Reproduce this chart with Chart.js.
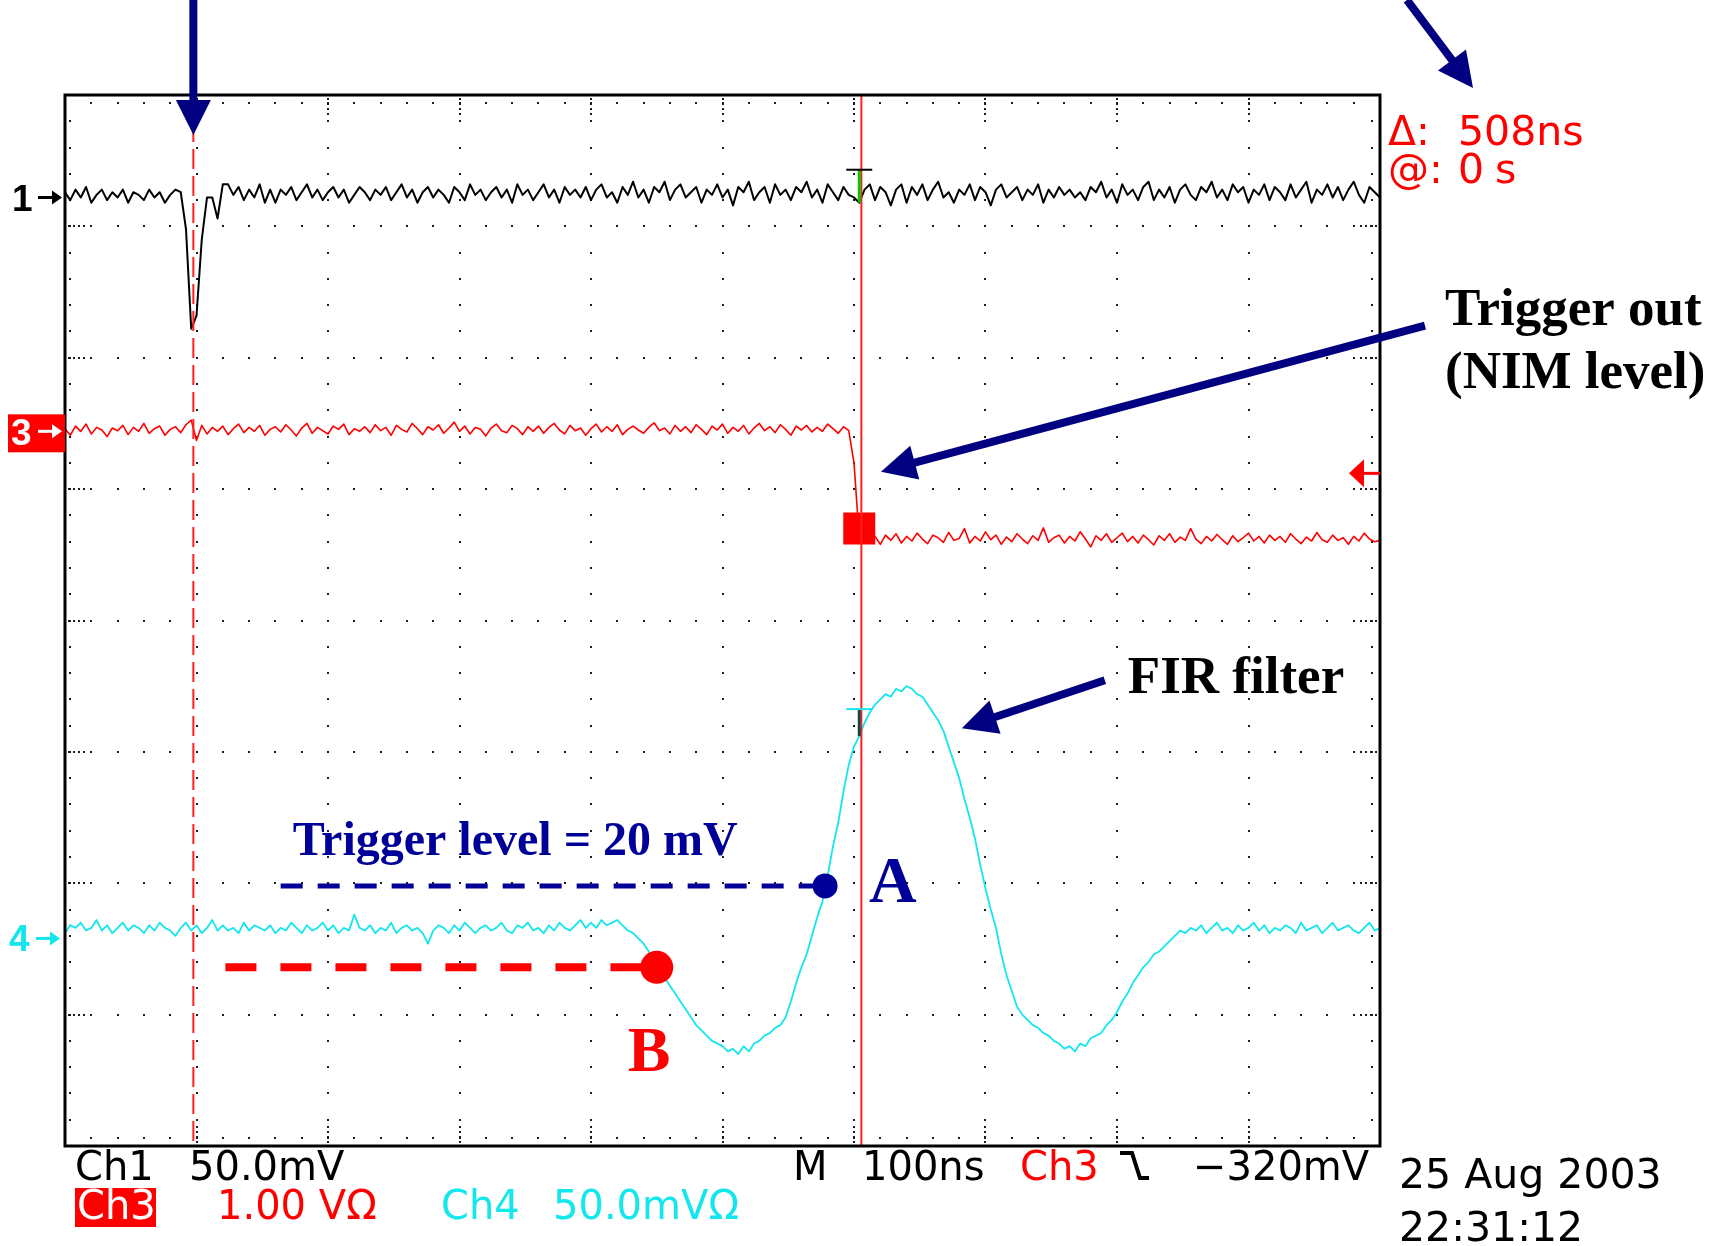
<!DOCTYPE html>
<html>
<head>
<meta charset="utf-8">
<title>FIR filter trigger timing</title>
<script src="https://cdn.jsdelivr.net/npm/chart.js@4.4.0/dist/chart.umd.min.js"></script>
<style>
  html, body { margin: 0; padding: 0; background: #fff; }
  #wrap { width: 1714px; height: 1246px; }
</style>
</head>
<body>
<div id="wrap"><canvas id="scope" width="1714" height="1246"></canvas></div>
<script>
// record spacing (ns between samples)
const sampleNs = 4;

// Ch1 : detector pulse, mV
const ch1Mv = [
  2, -1, 3, 0, 4, -2, 1, 3, -1, 2,
  0, 3, -2, 2, 1, -1, 3, 0, 2, -2,
  1, 3, 2, -12, -50, -45, -16, 0, 0, -8,
  5, 5, 1, 4, -1, 3, 0, 5, -2, 3,
  -2, 3, 1, 4, -1, 2, 5, 0, 3, -1,
  2, 4, 0, 3, -2, 1, 4, 2, -1, 3,
  1, 4, -1, 2, 5, 0, 3, -2, 2, 4,
  0, 3, 1, -2, 4, 2, -1, 5, 1, 3,
  -1, 2, 4, 0, 3, -2, 5, 1, 3, -1,
  2, 5, 0, 3, -2, 4, 1, 3, 0, 4,
  -1, 3, 5, 0, 2, -2, 4, 1, 6, 0,
  3, -2, 4, 2, 6, -1, 3, 5, 0, 2,
  4, -2, 3, 1, 5, 0, 3, -3, 4, 2,
  6, -1, 2, 4, -2, 5, 1, 3, -1, 4,
  2, 6, 0, 3, -2, 5, 2, -1, 4, 1,
  0, -2, 3, 5, -1, 4, 2, -3, 3, 5,
  -2, 4, 1, 5, -1, 3, 6, 0, 2, -2,
  3, 1, 5, -1, 4, 2, -3, 3, 5, 0,
  2, 4, -1, 3, 1, 5, -2, 3, 0, 4,
  1, 3, 0, 2, -1, 4, 2, 6, 0, 3,
  -2, 5, 1, 3, -1, 4, 6, -1, 3, 0,
  4, -2, 3, 5, 1, -1, 4, 2, 6, 0,
  3, -1, 5, 2, 4, -2, 3, 1, 5, -1,
  4, 2, -1, 5, 0, 3, 6, -2, 3, 1,
  5, 0, 4, -1, 3, 6, 1, -2, 4, 2,
  0
];

// Ch3 : trigger out, NIM level, mV
const ch3Mv = [
  20, -30, 40, 0, 55, -20, 30, 10, -40, 25,
  5, 45, -25, 30, 0, 60, -15, 20, 40, -30,
  15, 35, -10, 50, 85, -70, 45, -20, 30, 0,
  40, -25, 20, 55, -10, 30, 0, 45, -30, 15,
  35, -5, 50, 10, -35, 25, 60, -15, 30, 5,
  -20, 40, 15, 55, -25, 20, 0, 35, -10, 50,
  5, 30, -30, 45, 15, -5, 60, 20, -25, 35,
  10, 50, -15, 25, 70, 0, 40, -20, 30, 15,
  -35, 25, 55, 5, -10, 45, 20, -25, 35, 0,
  40, -15, 30, 60, 10, -20, 45, 5, 25, -30,
  20, 55, -5, 35, 0, 50, -25, 15, 40, 10,
  -15, 30, 65, 5, 25, -20, 45, 0, 35, -10,
  50, 15, -25, 40, 10, 55, -15, 30, 0, 45,
  -20, 25, 60, 5, 35, -10, 50, 15, -30, 40,
  10, 45, -5, 30, 0, 55, 20, -15, 35, 5,
  -240, -810, -770, -840, -800, -860, -790, -830, -780, -850,
  -800, -835, -775, -820, -855, -790, -810, -845, -770, -830,
  -815, -740, -850, -800, -835, -765, -825, -790, -860, -805,
  -840, -780, -820, -855, -795, -830, -735, -845, -810, -790,
  -850, -800, -835, -765, -820, -880, -795, -830, -780, -845,
  -810, -775, -840, -800, -850, -790, -825, -865, -795, -830,
  -780, -845, -805, -830, -740, -820, -855, -800, -835, -785,
  -825, -860, -795, -840, -810, -775, -835, -800, -850, -790,
  -830, -800, -845, -780, -820, -855, -805, -835, -770, -825,
  -845, -790, -830, -810, -860, -800, -835, -775, -820, -840,
  -830
];

// Ch4 : FIR filter output, mV
const ch4Mv = [
  2, 5, 4, 6, 3, 4, 7, 3, 5, 2,
  4, 6, 3, 5, 4, 2, 5, 3, 6, 4,
  3, 1, 4, 6, 3, 5, 2, 4, 7, 3,
  5, 3, 4, 2, 6, 3, 5, 4, 3, 5,
  2, 4, 3, 6, 4, 2, 5, 3, 4, 6,
  3, 5, 2, 4, 3, 9, 4, 3, 5, 2,
  4, 3, 6, 2, 4, 5, 3, 4, 2, -2,
  3, 5, 4, 2, 5, 3, 6, 4, 2, 4,
  5, 3, 4, 6, 3, 2, 5, 4, 6, 3,
  4, 2, 5, 3, 6, 4, 3, 5, 7, 4,
  6, 4, 7, 5, 6, 7, 5, 3, 2, 0,
  -2, -5, -9, -13, -15, -18, -21, -24, -27, -30,
  -33, -35, -37, -39, -40, -41, -43, -42, -44, -41,
  -43, -40, -39, -37, -36, -34, -33, -30, -24, -17,
  -11, -6, 1, 8, 14, 24, 35, 44, 56, 66,
  73, 77, 82, 86, 89, 91, 93, 92, 95, 94,
  96, 95, 93, 92, 89, 86, 83, 79, 73, 67,
  61, 53, 46, 38, 28, 19, 11, 4, -6, -14,
  -20, -26, -29, -31, -33, -34, -36, -37, -39, -40,
  -42, -41, -43, -40, -41, -38, -37, -36, -33, -31,
  -28, -24, -21, -17, -14, -11, -9, -6, -5, -3,
  -1, 1, 3, 2, 4, 3, 5, 2, 4, 6,
  3, 4, 2, 5, 3, 4, 6, 3, 5, 2,
  4, 3, 5, 4, 2, 6, 3, 4, 5, 2,
  4, 6, 3, 4, 5, 3, 2, 4, 6, 3,
  4
];

// cursors (ns on screen), delta 508 ns, second one sits on the trigger
const cursorNs = [97.6, 605.6];
// trigger level on Ch4 and crossing point A
const levelNs = [164, 578];
const levelMv = [20, 20];
// threshold point B on Ch4
const pointBNs = [122, 450];
const pointBMv = [-11, -11];
// Ch3 edge trigger level
const ch3TrigMv = -320;
// sample burst drawn at the NIM edge
const edgeNs = [604];
const edgeMv = [-740];

// vertical settings: mV per division and position of ground (div from centre)
const chMvPerDiv = [50, 1000, 50];
const chOffsetDiv = [3.22, 1.44, -2.42];

const RED = '#ff0000';
const CYAN = '#14e6ee';
const NAVY = '#000080';
const SCOPE_FONT = '40px "DejaVu Sans"';
const LABEL_FONT = 'bold 53px "Liberation Serif"';

const times = ch1Mv.map((_, i) => i * sampleNs);
const trace = (vals) => vals.map((v, i) => ({ x: times[i], y: v }));
const pairs = (xs, ys) => xs.map((x, i) => ({ x: x, y: ys[i] }));

function chScale(i) {
  return {
    display: false,
    min: (-4 - chOffsetDiv[i]) * chMvPerDiv[i],
    max: (4 - chOffsetDiv[i]) * chMvPerDiv[i]
  };
}

function dotGrid(chart) {
  const { ctx, chartArea: a, scales } = chart;
  const x = scales.x, yd = scales.yDiv;
  ctx.save();
  ctx.fillStyle = '#1c1c1c';
  const dot = (px, py) => ctx.fillRect(Math.round(px) - 1, Math.round(py) - 1, 2, 2);
  // dotted division lines, a dot every 0.2 div
  for (let c = 1; c < 10; c++) {
    const px = x.getPixelForValue(c * 100);
    for (let k = 1; k < 40; k++) dot(px, yd.getPixelForValue(-4 + k * 0.2));
  }
  for (let r = -3; r <= 3; r++) {
    const py = yd.getPixelForValue(r);
    for (let k = 1; k < 50; k++) dot(x.getPixelForValue(k * 20), py);
  }
  // minor ticks along the frame
  for (let k = 1; k < 50; k++) {
    const px = x.getPixelForValue(k * 20);
    dot(px, a.top + 8);
    dot(px, a.bottom - 8);
  }
  for (let k = 1; k < 40; k++) {
    const py = yd.getPixelForValue(-4 + k * 0.2);
    dot(a.left + 5, py);
    dot(a.right - 8, py);
  }
  // short runs where a division meets the frame
  for (let c = 1; c < 10; c++) {
    const px = x.getPixelForValue(c * 100);
    for (let j = 0; j < 4; j++) {
      dot(px, a.top + 4 + j * 5);
      dot(px, a.bottom - 4 - j * 5);
    }
  }
  for (let r = -3; r <= 3; r++) {
    const py = yd.getPixelForValue(r);
    for (let j = 0; j < 4; j++) {
      dot(a.left + 4 + j * 5, py);
      dot(a.right - 4 - j * 5, py);
    }
  }
  ctx.restore();
}

function markerArrow(ctx, x0, x1, y, color) {
  ctx.strokeStyle = color;
  ctx.fillStyle = color;
  ctx.lineWidth = 3;
  ctx.beginPath();
  ctx.moveTo(x0, y);
  ctx.lineTo(x1 - 6, y);
  ctx.stroke();
  ctx.beginPath();
  ctx.moveTo(x1, y);
  ctx.lineTo(x1 - 10, y - 7);
  ctx.lineTo(x1 - 10, y + 7);
  ctx.closePath();
  ctx.fill();
}

function bigArrow(ctx, x0, y0, x1, y1) {
  const len = Math.hypot(x1 - x0, y1 - y0);
  const ux = (x1 - x0) / len, uy = (y1 - y0) / len;
  const head = 35, half = 17.5;
  const bx = x1 - ux * head, by = y1 - uy * head;
  ctx.save();
  ctx.strokeStyle = NAVY;
  ctx.fillStyle = NAVY;
  ctx.lineWidth = 8;
  ctx.beginPath();
  ctx.moveTo(x0, y0);
  ctx.lineTo(bx + ux * 3, by + uy * 3);
  ctx.stroke();
  ctx.beginPath();
  ctx.moveTo(x1, y1);
  ctx.lineTo(bx - uy * half, by + ux * half);
  ctx.lineTo(bx + uy * half, by - ux * half);
  ctx.closePath();
  ctx.fill();
  ctx.restore();
}

function txt(ctx, s, x, y, font, color) {
  ctx.font = font;
  ctx.fillStyle = color;
  ctx.fillText(s, x, y);
}

// trigger "T" marks sitting on a trace at the trigger time
function tMark(ctx, px, py, rise, barColor, stemColor) {
  ctx.lineWidth = 3;
  ctx.strokeStyle = stemColor;
  ctx.beginPath();
  ctx.moveTo(px, py);
  ctx.lineTo(px, py - rise);
  ctx.stroke();
  ctx.lineWidth = 2;
  ctx.strokeStyle = barColor;
  ctx.beginPath();
  ctx.moveTo(px - 13, py - rise);
  ctx.lineTo(px + 13, py - rise);
  ctx.stroke();
}

const scopeOverlay = {
  id: 'scopeOverlay',
  beforeDraw(chart) {
    const ctx = chart.ctx;
    ctx.save();
    ctx.fillStyle = '#fff';
    ctx.fillRect(0, 0, chart.width, chart.height);
    ctx.restore();
  },
  beforeDatasetsDraw(chart) {
    dotGrid(chart);
  },
  afterDatasetsDraw(chart) {
    const { ctx, chartArea: a, scales } = chart;
    const x = scales.x;
    ctx.save();
    // time cursors
    ctx.strokeStyle = '#ff2020';
    ctx.lineWidth = 2;
    ctx.setLineDash([20, 7]);
    ctx.beginPath();
    ctx.moveTo(x.getPixelForValue(cursorNs[0]), a.top);
    ctx.lineTo(x.getPixelForValue(cursorNs[0]), a.bottom);
    ctx.stroke();
    ctx.setLineDash([]);
    ctx.beginPath();
    ctx.moveTo(x.getPixelForValue(cursorNs[1]), a.top);
    ctx.lineTo(x.getPixelForValue(cursorNs[1]), a.bottom);
    ctx.stroke();

    // T marks on Ch1 and Ch4
    const ti = Math.round(cursorNs[1] / sampleNs);
    const tx = x.getPixelForValue(times[ti]);
    tMark(ctx, tx, scales.y1.getPixelForValue(ch1Mv[ti]), 33, '#000', '#00c800');
    tMark(ctx, tx, scales.y4.getPixelForValue(ch4Mv[ti]), 27, CYAN, '#104848');

    // frame
    ctx.strokeStyle = '#000';
    ctx.lineWidth = 3;
    ctx.strokeRect(a.left, a.top, a.right - a.left, a.bottom - a.top);

    // Ch3 trigger level mark on the right edge
    const ty = scales.y3.getPixelForValue(ch3TrigMv);
    ctx.fillStyle = RED;
    ctx.strokeStyle = RED;
    ctx.lineWidth = 3;
    ctx.beginPath();
    ctx.moveTo(a.right - 18, ty);
    ctx.lineTo(a.right, ty);
    ctx.stroke();
    ctx.beginPath();
    ctx.moveTo(a.right - 31, ty);
    ctx.lineTo(a.right - 16, ty - 14);
    ctx.lineTo(a.right - 16, ty + 14);
    ctx.closePath();
    ctx.fill();
    ctx.restore();
  },
  afterDraw(chart) {
    const { ctx, chartArea: a, scales } = chart;
    const x = scales.x;
    ctx.save();
    ctx.textBaseline = 'alphabetic';

    // channel ground markers
    const g1 = scales.y1.getPixelForValue(0);
    txt(ctx, '1', 12, g1 + 14, 'bold 37px "Liberation Sans"', '#000');
    markerArrow(ctx, 38, 62, g1, '#000');
    const g3 = scales.y3.getPixelForValue(0);
    ctx.fillStyle = RED;
    ctx.fillRect(8, g3 - 17, a.left - 8, 38);
    txt(ctx, '3', 11, g3 + 14, 'bold 37px "Liberation Sans"', '#fff');
    markerArrow(ctx, 38, 62, g3, '#fff');
    const g4 = scales.y4.getPixelForValue(0);
    txt(ctx, '4', 9, g4 + 13, 'bold 37px "Liberation Sans"', CYAN);
    markerArrow(ctx, 36, 60, g4, CYAN);

    // status line under the graticule
    const r1 = a.bottom + 34, r2 = a.bottom + 73;
    txt(ctx, 'Ch1', 75, r1, SCOPE_FONT, '#000');
    txt(ctx, '50.0mV', 189, r1, SCOPE_FONT, '#000');
    txt(ctx, 'M', 793, r1, SCOPE_FONT, '#000');
    txt(ctx, '100ns', 862, r1, SCOPE_FONT, '#000');
    txt(ctx, 'Ch3', 1020, r1, SCOPE_FONT, RED);
    ctx.strokeStyle = '#000';
    ctx.lineWidth = 4;
    ctx.beginPath();
    ctx.moveTo(1120, r1 - 27);
    ctx.lineTo(1132, r1 - 27);
    ctx.lineTo(1140, r1 - 2);
    ctx.lineTo(1149, r1 - 2);
    ctx.stroke();
    txt(ctx, '\u2212320mV', 1193, r1, SCOPE_FONT, '#000');

    ctx.fillStyle = RED;
    ctx.fillRect(75, r2 - 31, 81, 39);
    txt(ctx, 'Ch3', 77, r2, SCOPE_FONT, '#fff');
    txt(ctx, '1.00 V\u03A9', 217, r2, SCOPE_FONT, RED);
    txt(ctx, 'Ch4', 441, r2, SCOPE_FONT, CYAN);
    txt(ctx, '50.0mV\u03A9', 553, r2, SCOPE_FONT, CYAN);

    txt(ctx, '25 Aug 2003', a.right + 19, a.bottom + 42, '41px "DejaVu Sans"', '#000');
    txt(ctx, '22:31:12', a.right + 19, a.bottom + 95, '41px "DejaVu Sans"', '#000');

    // cursor readout
    const RF = '41px "DejaVu Sans"';
    txt(ctx, '\u0394:', a.right + 8, a.top + 50, RF, RED);
    txt(ctx, '508ns', a.right + 78, a.top + 50, RF, RED);
    txt(ctx, '@:', a.right + 8, a.top + 88, RF, RED);
    txt(ctx, '0', a.right + 78, a.top + 88, RF, RED);
    txt(ctx, 's', a.right + 115, a.top + 88, RF, RED);

    // labels and pointers
    const c0 = x.getPixelForValue(cursorNs[0]);
    bigArrow(ctx, c0, 0, c0, a.top + 40);
    bigArrow(ctx, a.right + 27, 0, a.right + 93, a.top - 7);

    txt(ctx, 'Trigger out', a.right + 65, a.top + 230, LABEL_FONT, '#000');
    txt(ctx, '(NIM level)', a.right + 65, a.top + 293, LABEL_FONT, '#000');
    const toX = x.getPixelForValue(620.5), toY = scales.y3.getPixelForValue(-307);
    bigArrow(ctx, toX + 544, toY - 146, toX, toY);

    const fX = x.getPixelForValue(682), fY = scales.y4.getPixelForValue(80);
    bigArrow(ctx, fX + 143, fY - 48, fX, fY);
    txt(ctx, 'FIR filter', fX + 166, fY - 35, LABEL_FONT, '#000');

    const lx = x.getPixelForValue(levelNs[0]), ly = scales.y4.getPixelForValue(levelMv[0]);
    txt(ctx, 'Trigger level = 20 mV', lx + 12, ly - 31, 'bold 48px "Liberation Serif"', '#000099');
    const ax = x.getPixelForValue(levelNs[1]);
    txt(ctx, 'A', ax + 44, ly + 16, 'bold 66px "Liberation Serif"', '#000099');
    const bx = x.getPixelForValue(pointBNs[1]), by = scales.y4.getPixelForValue(pointBMv[1]);
    txt(ctx, 'B', bx - 29, by + 104, 'bold 64px "Liberation Serif"', RED);
    ctx.restore();
  }
};

const scopeChart = new Chart(document.getElementById('scope'), {
  type: 'line',
  data: {
    datasets: [
      {
        label: 'edge',
        data: pairs(edgeNs, edgeMv),
        yAxisID: 'y3',
        showLine: false,
        pointStyle: 'rect',
        pointRadius: 22.6,
        pointBackgroundColor: RED,
        pointBorderWidth: 0
      },
      {
        label: 'trigger level',
        data: pairs(levelNs, levelMv),
        yAxisID: 'y4',
        borderColor: '#000099',
        borderWidth: 5,
        borderDash: [22, 15],
        pointRadius: [0, 12.5],
        pointBackgroundColor: '#000099',
        pointBorderWidth: 0
      },
      {
        label: 'B',
        data: pairs(pointBNs, pointBMv),
        yAxisID: 'y4',
        borderColor: RED,
        borderWidth: 8,
        borderDash: [31, 24],
        pointRadius: [0, 16.5],
        pointBackgroundColor: RED,
        pointBorderWidth: 0
      },
      { label: 'Ch1', data: trace(ch1Mv), yAxisID: 'y1', borderColor: '#000', borderWidth: 2 },
      { label: 'Ch3', data: trace(ch3Mv), yAxisID: 'y3', borderColor: RED, borderWidth: 1.6 },
      { label: 'Ch4', data: trace(ch4Mv), yAxisID: 'y4', borderColor: CYAN, borderWidth: 1.8 }
    ]
  },
  options: {
    responsive: false,
    animation: false,
    devicePixelRatio: 1,
    layout: { padding: { left: 65, top: 95, right: 334, bottom: 100 } },
    elements: {
      point: { radius: 0 },
      line: { tension: 0, borderJoinStyle: 'round', fill: false }
    },
    plugins: {
      legend: { display: false },
      tooltip: { enabled: false }
    },
    scales: {
      x: { type: 'linear', display: false, min: 0, max: 1000 },
      yDiv: { type: 'linear', display: false, min: -4, max: 4 },
      y1: chScale(0),
      y3: chScale(1),
      y4: chScale(2)
    }
  },
  plugins: [scopeOverlay]
});
</script>
</body>
</html>
